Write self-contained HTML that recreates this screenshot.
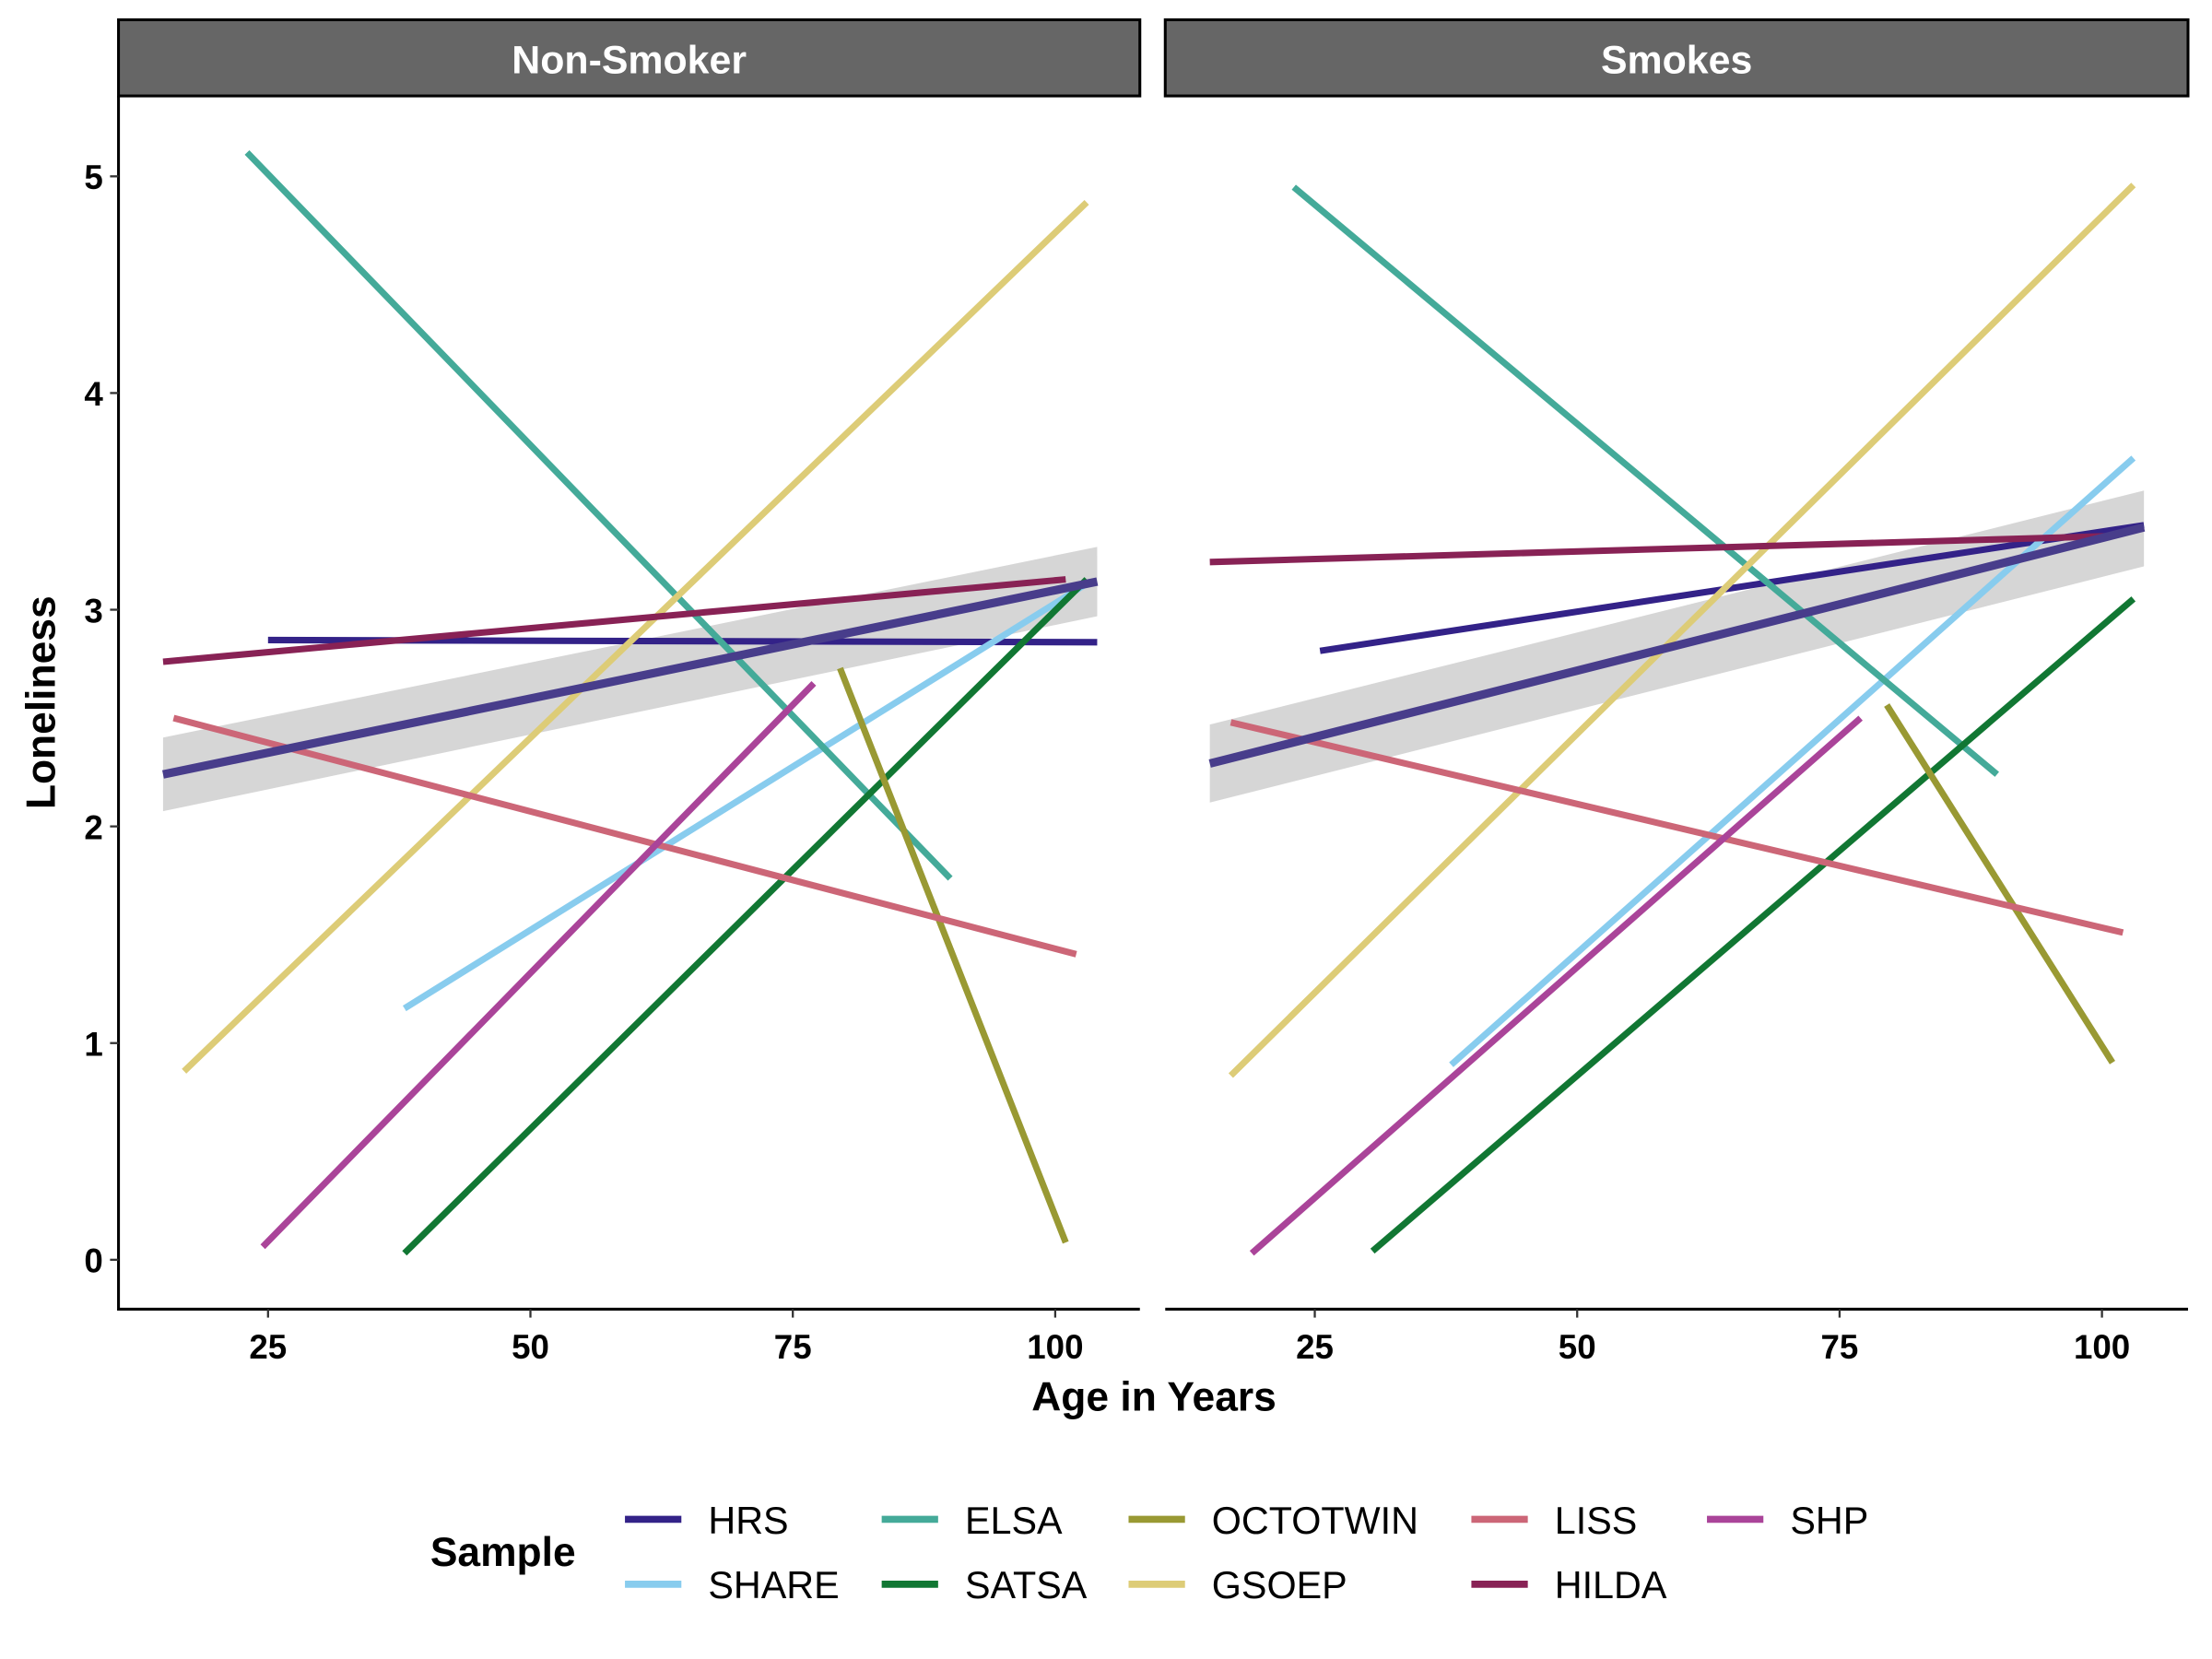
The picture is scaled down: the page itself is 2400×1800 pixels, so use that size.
<!DOCTYPE html>
<html><head><meta charset="utf-8"><style>
html,body{margin:0;padding:0;background:#fff;}
svg{display:block;font-family:"Liberation Sans",sans-serif;}
</style></head><body>
<svg id="chart" width="2400" height="1800" viewBox="0 0 1568 1176" xmlns="http://www.w3.org/2000/svg"></svg>
<script>
const samples = ["HRS","SHARE","ELSA","SATSA","OCTOTWIN","GSOEP","LISS","HILDA","SHP"];
const colors = ["#332288","#88CCEE","#44AA99","#117733","#999933","#DDCC77","#CC6677","#882255","#AA4499"];
const panels = ["Non-Smoker","Smokes"];
// [x0, y0, x1, y1] per sample, per panel
const nonSmokerLines = [
  [25,2.86,104,2.85],[38,1.16,103,3.12],[23,5.11,90,1.76],[38,0.03,103,3.14],
  [79.5,2.73,101,0.08],[17,0.87,103,4.88],[16,2.50,102,1.41],[15,2.76,101,3.14],[24.5,0.06,77,2.66]
];
const smokesLines = [
  [25.5,2.81,104,3.39],[38,0.90,103,3.70],[23,4.95,90,2.24],[30.5,0.04,103,3.05],
  [79.5,2.56,101,0.91],[17,0.85,103,4.96],[17,2.48,102,1.51],[15,3.22,101,3.34],[19,0.03,77,2.50]
];
// overall fit: [x0, y0, lo0, hi0, x1, y1, lo1, hi1]
const nonSmokerFit = [15,2.24,2.07,2.41,104,3.13,2.97,3.29];
const smokesFit = [15,2.29,2.11,2.47,104,3.38,3.20,3.55];
const xTicks = [25,50,75,100];
const yTicks = [0,1,2,3,4,5];

const svg = document.getElementById('chart');
const NS = "http://www.w3.org/2000/svg";
function mk(tag, attrs, parent){const e=document.createElementNS(NS,tag);for(const k in attrs)e.setAttribute(k,attrs[k]);(parent||svg).appendChild(e);return e;}

const panelX = [[84,808],[826,1551]];
const tickPx = [[190,748],[932,1490]];
function xs(p,v){const a=tickPx[p][0],b=tickPx[p][1];return a+(v-25)*(b-a)/75;}
function ys(v){return 893-v*153.6;}
const plotTop=68, plotBottom=928;

const allLines=[nonSmokerLines,smokesLines], allFits=[nonSmokerFit,smokesFit];
panels.forEach((name,p)=>{
  const g=mk('g',{});
  
  
  const [l,r]=panelX[p];
  const strip=mk('rect',{x:l,y:14,width:r-l,height:54,fill:'#666666',stroke:'#000','stroke-width':2},g);
  
  
  const st=mk('text',{x:(l+r)/2,y:52,'text-anchor':'middle','font-size':28,'font-weight':'bold',fill:'#fff'},g);
  st.textContent=name;
  
  
  const f=allFits[p];
  const band=mk('polygon',{points:`${xs(p,f[0])},${ys(f[3])} ${xs(p,f[4])},${ys(f[7])} ${xs(p,f[4])},${ys(f[6])} ${xs(p,f[0])},${ys(f[2])}`,fill:'#999','fill-opacity':0.4},g);
  
  
  allLines[p].forEach((d,i)=>{
    const ln=mk('line',{x1:xs(p,d[0]),y1:ys(d[1]),x2:xs(p,d[2]),y2:ys(d[3]),stroke:colors[i],'stroke-width':4.6},g);
    
    
  });
  const fl=mk('line',{x1:xs(p,f[0]),y1:ys(f[1]),x2:xs(p,f[4]),y2:ys(f[5]),stroke:'#483D8B','stroke-width':6},g);
  
  
  const ax=mk('line',{x1:l,y1:plotBottom,x2:r,y2:plotBottom,stroke:'#000','stroke-width':2},g);
  
  
  xTicks.forEach(t=>{
    const tk=mk('line',{x1:xs(p,t),y1:plotBottom,x2:xs(p,t),y2:plotBottom+6,stroke:'#333','stroke-width':1.5},g);
    
    
    const tl=mk('text',{x:xs(p,t),y:plotBottom+35,'text-anchor':'middle','font-size':24,'font-weight':'bold',fill:'#000'},g);
    tl.textContent=t;
    
    
  });
});
const yax=mk('line',{x1:84,y1:plotTop,x2:84,y2:plotBottom+1,stroke:'#000','stroke-width':2});


yTicks.forEach(t=>{
  const tk=mk('line',{x1:78,y1:ys(t),x2:84,y2:ys(t),stroke:'#333','stroke-width':1.5});
  
  
  const tl=mk('text',{x:73,y:ys(t)+9,'text-anchor':'end','font-size':24,'font-weight':'bold',fill:'#000'});
  tl.textContent=t;
  
  
});
const xt=mk('text',{x:818,y:1000,'text-anchor':'middle','font-size':29,'font-weight':'bold'});
xt.textContent='Age in Years';


const yt=mk('text',{x:0,y:0,'text-anchor':'middle','font-size':29,'font-weight':'bold',transform:'translate(39,498) rotate(-90)'});
yt.textContent='Loneliness';


const lt=mk('text',{x:305,y:1110,'font-size':29,'font-weight':'bold'});
lt.textContent='Sample';


const colX=[443,625,800,1043,1210];
samples.forEach((s,i)=>{
  const c=Math.floor(i/2), r=i%2;
  const y=1077+r*46;
  const g=mk('g',{});
  
  
  mk('line',{x1:colX[c],y1:y,x2:colX[c]+40,y2:y,stroke:colors[i],'stroke-width':5},g);
  const t=mk('text',{x:colX[c]+59,y:y+10,'font-size':27,fill:'#000'},g);
  t.textContent=s;
});
</script>
</body></html>
